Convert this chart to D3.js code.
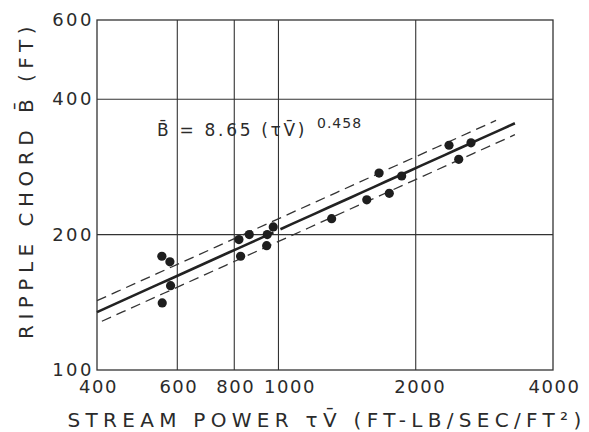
<!DOCTYPE html>
<html>
<head>
<meta charset="utf-8">
<script src="https://cdn.jsdelivr.net/npm/d3@7"></script>
<style>
  body { margin: 0; background: #fff; }
  text { font-family: "DejaVu Sans", sans-serif; fill: #2b2b2b; }
</style>
</head>
<body>
<svg id="chart" width="589" height="432"></svg>
<script>
// stream power vs ripple chord, log-log

const xTicks = [400, 600, 800, 1000, 2000, 4000];
const yTicks = [100, 200, 400, 600];

// measured points
const streamPower = [555, 578, 580, 556, 819, 863, 826, 945, 974, 942, 1308, 1562, 1662, 1750, 1863, 2366, 2644, 2485];
const rippleChord = [179, 174, 154, 141, 195, 200, 179, 200, 208, 189, 217, 239, 274, 247, 270, 316, 320, 294];

// fitted curve B = 8.65 (tV)^0.458 and its band
const fitCoef = 8.65;
const fitExp = 0.458;
const bandFactor = 1.06;
const solidSpans = [[400, 975], [1010, 3300]];
const upperSpan = [400, 3000];
const lowerSpan = [410, 3300];

const svg = d3.select("#chart");

const pLeft = 97, pRight = 553, pTop = 20, pBottom = 370;

const x = d3.scaleLog().domain([400, 4000]).range([pLeft, pRight]);
const y = d3.scaleLog().domain([100, 600]).range([pBottom, pTop]);

const ink = "#333";

// grid lines
svg.append("g")
  .selectAll("line")
  .data(xTicks.slice(1, -1))
  .join("line")
  .attr("x1", d => x(d)).attr("x2", d => x(d))
  .attr("y1", pTop).attr("y2", pBottom)
  .attr("stroke", ink).attr("stroke-width", 1.1);

svg.append("g")
  .selectAll("line")
  .data(yTicks.slice(1, -1))
  .join("line")
  .attr("x1", pLeft).attr("x2", pRight)
  .attr("y1", d => y(d)).attr("y2", d => y(d))
  .attr("stroke", ink).attr("stroke-width", 1.1);

// frame
svg.append("rect")
  .attr("x", pLeft).attr("y", pTop)
  .attr("width", pRight - pLeft).attr("height", pBottom - pTop)
  .attr("fill", "none").attr("stroke", ink).attr("stroke-width", 1.3);

// tick labels
const xAxis = svg.append("g")
  .attr("transform", "translate(0," + pBottom + ")")
  .call(d3.axisBottom(x).tickValues(xTicks).tickFormat(d3.format("d")).tickSize(0).tickPadding(10));
xAxis.select(".domain").remove();
xAxis.selectAll("text")
  .attr("font-size", "18px").attr("font-family", "DejaVu Sans").attr("fill", "#2b2b2b")
  .attr("letter-spacing", "1.5px")
  .attr("dx", d => d === 1000 ? "11px" : d === 2000 ? "4px" : "1px"); // hand lettering sits off-centre here

const yAxis = svg.append("g")
  .attr("transform", "translate(" + pLeft + ",0)")
  .call(d3.axisLeft(y).tickValues(yTicks).tickFormat(d3.format("d")).tickSize(0).tickPadding(3));
yAxis.select(".domain").remove();
yAxis.selectAll("text")
  .attr("font-size", "18px").attr("font-family", "DejaVu Sans").attr("fill", "#2b2b2b")
  .attr("letter-spacing", "2.5px");

// fitted lines
const fit = v => fitCoef * Math.pow(v, fitExp);
const curve = (span, k) => {
  const pts = d3.range(0, 21).map(i => {
    const v = span[0] * Math.pow(span[1] / span[0], i / 20);
    return [x(v), y(fit(v) * k)];
  });
  return d3.line()(pts);
};

solidSpans.forEach(s => {
  svg.append("path")
    .attr("d", curve(s, 1))
    .attr("fill", "none").attr("stroke", "#222").attr("stroke-width", 2.6);
});

svg.append("path")
  .attr("d", curve(upperSpan, bandFactor))
  .attr("fill", "none").attr("stroke", "#333").attr("stroke-width", 1.3)
  .attr("stroke-dasharray", "10,6");

svg.append("path")
  .attr("d", curve(lowerSpan, 1 / bandFactor))
  .attr("fill", "none").attr("stroke", "#333").attr("stroke-width", 1.3)
  .attr("stroke-dasharray", "10,6");

// points
svg.append("g")
  .selectAll("circle")
  .data(streamPower.map((p, i) => [p, rippleChord[i]]))
  .join("circle")
  .attr("cx", d => x(d[0]))
  .attr("cy", d => y(d[1]))
  .attr("r", 4.6)
  .attr("fill", "#1e1e1e");

// equation
const eq = svg.append("text")
  .attr("x", 157).attr("y", 136)
  .attr("font-size", "17px")
  .attr("letter-spacing", "2.7px");
eq.append("tspan").text("B\u0304 = 8.65 (\u03C4V\u0304)");
eq.append("tspan").attr("x", 317).attr("y", 128).attr("font-size", "14px")
  .attr("letter-spacing", "1px").text("0.458");

// axis titles
svg.append("text")
  .attr("x", 327).attr("y", 427)
  .attr("text-anchor", "middle")
  .attr("font-size", "20px")
  .attr("letter-spacing", "5.3px")
  .text("STREAM POWER \u03C4V\u0304 (FT-LB/SEC/FT\u00B2)");

svg.append("text")
  .attr("transform", "translate(33,180) rotate(-90)")
  .attr("text-anchor", "middle")
  .attr("font-size", "20px")
  .attr("letter-spacing", "5.5px")
  .text("RIPPLE CHORD B\u0304 (FT)");
</script>
</body>
</html>
